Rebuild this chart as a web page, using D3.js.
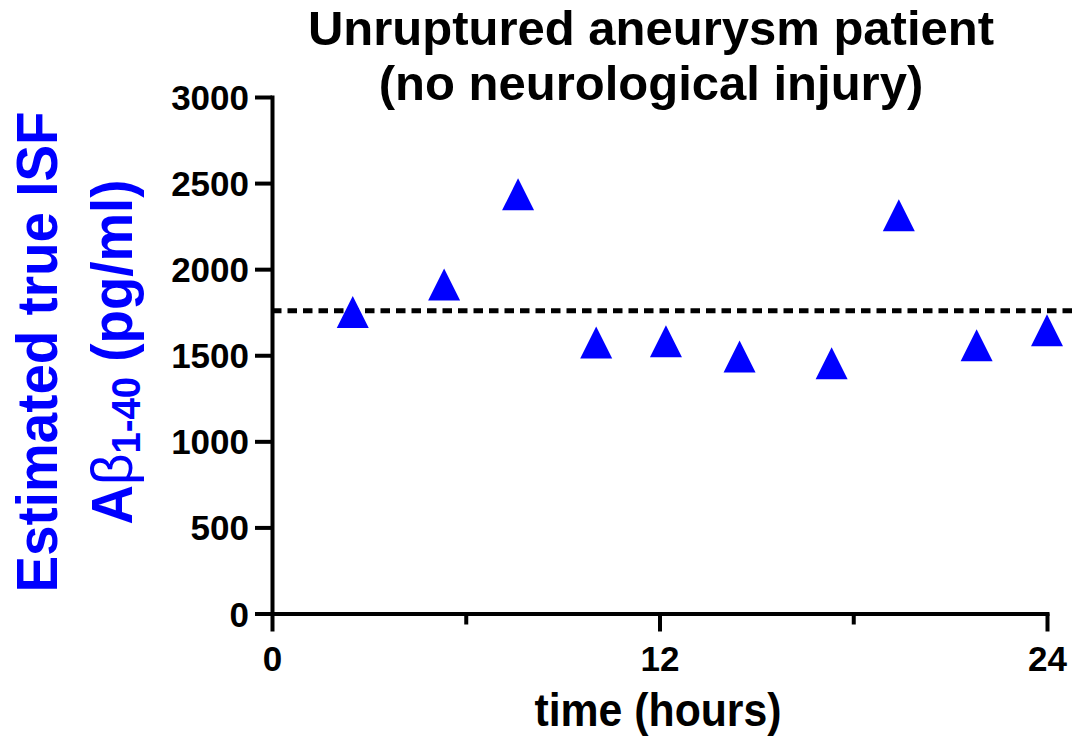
<!DOCTYPE html>
<html>
<head>
<meta charset="utf-8">
<script src="https://cdn.jsdelivr.net/npm/d3@7"></script>
<style>
  html, body { margin: 0; padding: 0; background: #ffffff; }
  svg { display: block; font-family: "Liberation Sans", Arial, Helvetica, sans-serif; font-weight: bold; }
</style>
</head>
<body>
<svg id="chart" width="1072" height="737"></svg>
<script>
// Sampling times (hours) and estimated ISF Aβ1-40 concentrations (pg/ml)
const timeHours   = [2.5, 5.33, 7.62, 10.04, 12.2, 14.48, 17.33, 19.41, 21.82, 24.0];
const abetaValues = [1751, 1911, 2435, 1574, 1581, 1493, 1454, 2313, 1558, 1645];
// Horizontal dashed reference level (pg/ml)
const referenceLevel = 1758;

const yTickValues  = [0, 500, 1000, 1500, 2000, 2500, 3000];
const xMajorTicks  = [0, 12, 24];
const xMinorTicks  = [6, 18];
const titleLines   = ["Unruptured aneurysm patient", "(no neurological injury)"];
const xAxisLabel   = "time (hours)";
const yLabelLine1  = "Estimated true ISF";

const W = 1072, H = 737;
const svg = d3.select("#chart");

const x = d3.scaleLinear().domain([0, 24]).range([272, 1047]);
const y = d3.scaleLinear().domain([0, 3000]).range([613.5, 97]);

const blue = "#0000ff";
const axisWidth = 4;

// Title
svg.append("g").selectAll("text")
  .data(titleLines)
  .join("text")
  .attr("x", 651)
  .attr("y", (d, i) => 45 + i * 55)
  .attr("text-anchor", "middle")
  .attr("font-size", 49)
  .attr("fill", "#000")
  .text(d => d);

// Dashed reference line
svg.append("line")
  .attr("x1", x(0)).attr("x2", W)
  .attr("y1", y(referenceLevel)).attr("y2", y(referenceLevel))
  .attr("stroke", "#000")
  .attr("stroke-width", 5)
  .attr("stroke-dasharray", "9.5,6");

// Y axis
const yAxis = svg.append("g")
  .attr("transform", `translate(${x(0)},0)`)
  .call(d3.axisLeft(y).tickValues(yTickValues).tickSize(17).tickSizeOuter(0).tickFormat(d3.format("d")));
yAxis.select(".domain").attr("stroke-width", axisWidth).attr("stroke-linecap", "square");
yAxis.selectAll(".tick line").attr("stroke-width", axisWidth);
yAxis.selectAll(".tick text")
  .attr("x", -23).attr("dy", null).attr("y", 12.5)
  .attr("font-size", 35).attr("font-family", null).attr("fill", "#000");

// X axis (major ticks)
const xAxis = svg.append("g")
  .attr("transform", `translate(0,${y(0)})`)
  .call(d3.axisBottom(x).tickValues(xMajorTicks).tickSize(18).tickSizeOuter(0).tickFormat(d3.format("d")));
xAxis.select(".domain").attr("stroke-width", axisWidth).attr("stroke-linecap", "square");
xAxis.selectAll(".tick line").attr("stroke-width", axisWidth);
xAxis.selectAll(".tick text")
  .attr("dy", null).attr("y", 57.5)
  .attr("font-size", 35).attr("font-family", null).attr("fill", "#000");

// X axis (minor ticks)
const xMinor = svg.append("g")
  .attr("transform", `translate(0,${y(0)})`)
  .call(d3.axisBottom(x).tickValues(xMinorTicks).tickSize(11).tickSizeOuter(0).tickFormat(""));
xMinor.select(".domain").remove();
xMinor.selectAll(".tick line").attr("stroke-width", axisWidth);

// Axis titles
svg.append("text")
  .attr("x", 658).attr("y", 726)
  .attr("text-anchor", "middle")
  .attr("font-size", 46)
  .attr("textLength", 247).attr("lengthAdjust", "spacingAndGlyphs")
  .attr("fill", "#000")
  .text(xAxisLabel);

svg.append("text")
  .attr("transform", "translate(57,352) rotate(-90)")
  .attr("text-anchor", "middle")
  .attr("font-size", 57)
  .attr("textLength", 481).attr("lengthAdjust", "spacingAndGlyphs")
  .attr("fill", blue)
  .text(yLabelLine1);

const yl2 = svg.append("text")
  .attr("transform", "translate(132,352) rotate(-90)")
  .attr("text-anchor", "middle")
  .attr("font-size", 57)
  .attr("textLength", 345).attr("lengthAdjust", "spacingAndGlyphs")
  .attr("fill", blue);
yl2.append("tspan").text("A");
yl2.append("tspan").attr("font-weight", "normal").text("β");
yl2.append("tspan").attr("font-size", 40).attr("dy", 8).text("1-40");
yl2.append("tspan").attr("dy", -8).text(" (pg/ml)");

// Isoceles triangle marker, centred on its bounding box
const triangleMarker = {
  draw(ctx, size) {
    const w = Math.sqrt(size), h = w;
    ctx.moveTo(0, -h / 2);
    ctx.lineTo(w / 2, h / 2);
    ctx.lineTo(-w / 2, h / 2);
    ctx.closePath();
  }
};
const marker = d3.symbol().type(triangleMarker).size(32 * 32);

svg.append("g").selectAll("path")
  .data(d3.zip(timeHours, abetaValues))
  .join("path")
  .attr("transform", d => `translate(${x(d[0])},${y(d[1])})`)
  .attr("d", marker)
  .attr("fill", blue);
</script>
</body>
</html>
